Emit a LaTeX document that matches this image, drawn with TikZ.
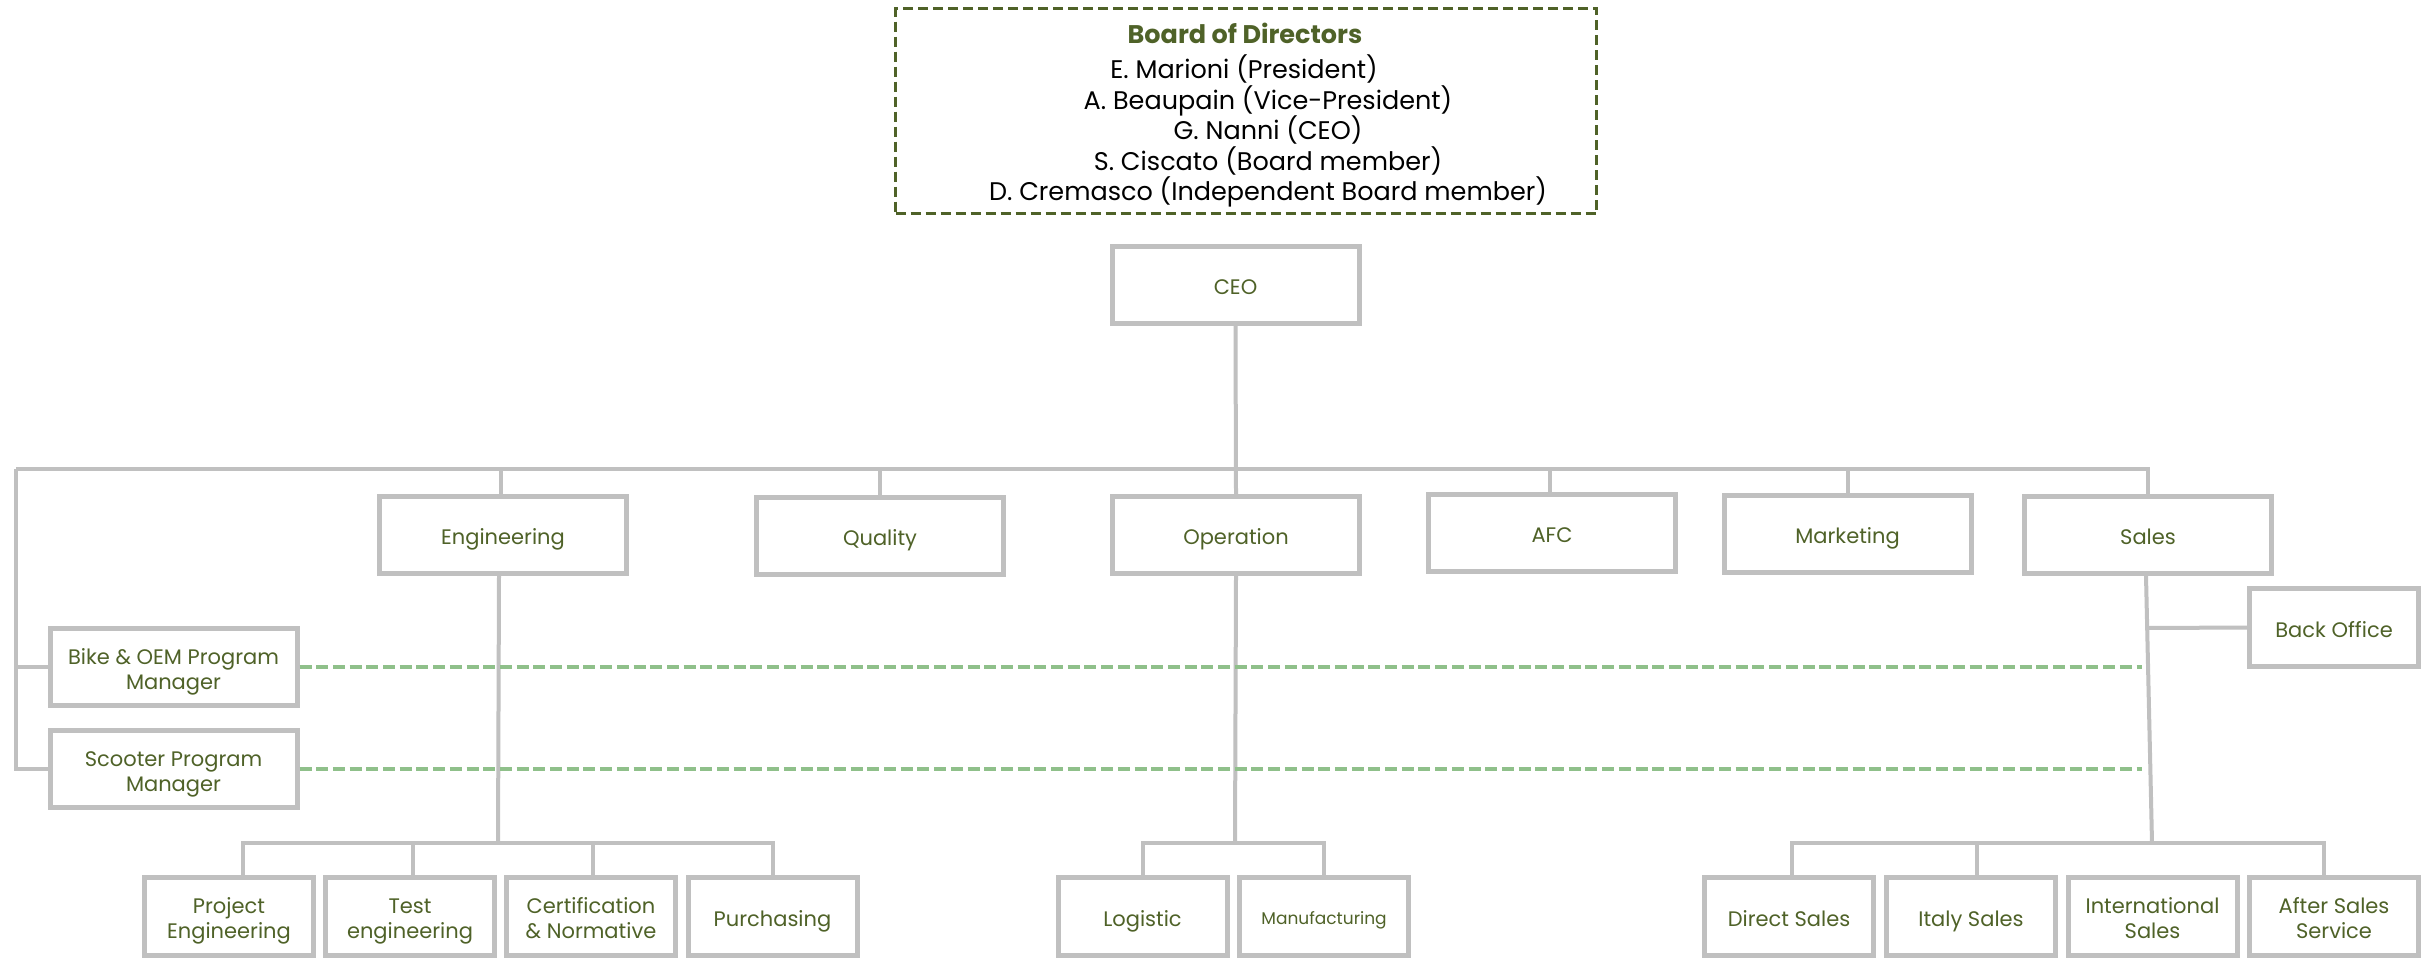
\documentclass[tikz,border=0pt]{standalone}
\usepackage{fontspec}
\setmainfont{Poppins}
\definecolor{orgtext}{RGB}{79,98,40}
\definecolor{orggray}{RGB}{192,192,192}
\definecolor{orgdash}{RGB}{143,192,138}
\newcommand\boxfont{\fontsize{21}{25}\selectfont}
\newcommand\boardfont{\fontsize{25.5}{30.5}\selectfont}
\begin{document}
\begin{tikzpicture}[x=1pt,y=-1pt,
  unit/.style={draw=orggray, line width=5pt, fill=white, text=orgtext, font=\boxfont,
    align=center, minimum width=247pt, minimum height=77pt, inner sep=0pt,
    text height=19pt, text depth=0pt},
  twoline/.style={text height=44pt, text depth=0pt},
  small/.style={unit, minimum width=169pt, minimum height=78pt},
  link/.style={draw=orggray, line width=4pt},
  peer/.style={draw=orgdash, line width=4pt, dash pattern=on 12pt off 4.7pt},
  boardbox/.style={draw=orgtext, line width=3pt, dash pattern=on 10pt off 5pt,
    minimum width=701pt, minimum height=205pt, inner sep=0pt},
  boardline/.style={anchor=base, font=\boardfont, text=black, inner sep=0pt}]
\useasboundingbox (0,0) rectangle (2430,959);
\fill[white] (0,0) rectangle (2430,959);

% Board of directors
\node[boardbox] (board) at (1246,111) {};
\node[boardline, text=orgtext, font=\boardfont\bfseries] (bt) at (1245,43) {Board of Directors};
\node[boardline] (b1) at (1244,78) {E. Marioni (President)};
\node[boardline] (b2) at (1268,109) {A. Beaupain (Vice-President)};
\node[boardline] (b3) at (1268,139) {G. Nanni (CEO)};
\node[boardline] (b4) at (1268,170) {S. Ciscato (Board member)};
\node[boardline] (b5) at (1268,200) {D. Cremasco (Independent Board member)};

% main boxes
\node[unit] (ceo) at (1235.5,284.5) {CEO};
\node[unit] (eng) at (503,535) {Engineering};
\node[unit] (qual) at (880,536) {Quality};
\node[unit] (op) at (1236,535) {Operation};
\node[unit] (afc) at (1552,533) {AFC};
\node[unit] (mkt) at (1847.5,534) {Marketing};
\node[unit] (sales) at (2148,535) {Sales};
\node[small] (bo) at (2334,627.5) {Back Office};
\node[unit, twoline] (bike) at (173.5,667) {Bike \& OEM Program\\Manager};
\node[unit, twoline] (scoot) at (173.5,769) {Scooter Program\\Manager};

% bottom boxes
\node[small, twoline] (pe) at (229,916.5) {Project\\Engineering};
\node[small, twoline] (te) at (410,916.5) {Test\\engineering};
\node[small, twoline] (cn) at (591,916.5) {Certification\\\& Normative};
\node[small] (pur) at (772.5,916.5) {Purchasing};
\node[small] (lg) at (1142.5,916.5) {Logistic};
\node[small, font=\fontsize{17}{20}\selectfont, text height=16pt] (mf) at (1324,916.5) {Manufacturing};
\node[small] (ds) at (1789,916.5) {Direct Sales};
\node[small] (it) at (1971,916.5) {Italy Sales};
\node[small, twoline] (intl) at (2152.5,916.5) {International\\Sales};
\node[small, twoline] (as) at (2334,916.5) {After Sales\\Service};

% coordinates of buses
\coordinate (busL) at (16,469);
\coordinate (eb) at (498,843);
\coordinate (ob) at (1235,843);
\coordinate (sb) at (2152,843);
\coordinate (bj) at (2147,628);
\coordinate (d1) at (2142,667);
\coordinate (d2) at (2142,769);

% top level connectors
\draw[link] (ceo.south) -- (op.north);
\draw[link] (busL) -- (sales.north |- busL) -- (sales.north);
\draw[link] (busL) -- (busL |- scoot.west) -- (scoot.west);
\draw[link] (busL |- bike.west) -- (bike.west);
\draw[link] ([xshift=-2pt]eng.north) -- ([xshift=-2pt]eng.north |- busL);
\draw[link] (qual.north) -- (qual.north |- busL);
\draw[link] ([xshift=-2pt]afc.north) -- ([xshift=-2pt]afc.north |- busL);
\draw[link] (mkt.north) -- (mkt.north |- busL);

% engineering
\draw[link] ([xshift=-4pt]eng.south) -- (eb);
\draw[link] ([xshift=14pt]pe.north) -- ([xshift=14pt]pe.north |- eb) -- (pur.north |- eb) -- (pur.north);
\draw[link] ([xshift=3pt]te.north) -- ([xshift=3pt]te.north |- eb);
\draw[link] ([xshift=2pt]cn.north) -- ([xshift=2pt]cn.north |- eb);

% operation
\draw[link] (op.south) -- (ob);
\draw[link] (lg.north) -- (lg.north |- ob) -- (mf.north |- ob) -- (mf.north);

% sales
\draw[link] ([xshift=-2pt]sales.south) -- (sb);
\draw[link] (bj) -- (bo.west);
\draw[link] ([xshift=3pt]ds.north) -- ([xshift=3pt]ds.north |- sb) -- ([xshift=-10pt]as.north |- sb) -- ([xshift=-10pt]as.north);
\draw[link] ([xshift=6pt]it.north) -- ([xshift=6pt]it.north |- sb);

% program managers (dashed)
\draw[peer] (bike.east) -- (d1);
\draw[peer] (scoot.east) -- (d2);
\end{tikzpicture}
\end{document}
